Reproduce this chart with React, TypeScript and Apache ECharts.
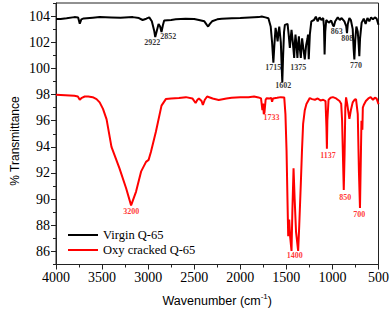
import React, { useEffect, useRef } from "react";
import * as echarts from "echarts";

// Virgin Q-65 spectrum (wavenumber cm-1, % transmittance)
const virginWavenumber = [
  4000, 3950, 3885, 3800, 3760, 3742, 3725, 3700, 3600, 3526, 3400, 3300, 3167, 3100, 3060, 3020, 2988, 2960, 2935, 2923,
  2905, 2887, 2870, 2855, 2840, 2826, 2750, 2700, 2593, 2500, 2449, 2390, 2365, 2349, 2330, 2306, 2250, 2200, 2091, 2000,
  1900, 1800, 1767, 1728, 1695, 1670, 1655, 1641, 1630, 1617, 1605, 1595, 1585, 1577, 1560, 1550, 1544, 1535, 1525, 1516,
  1487, 1475, 1462, 1452, 1444, 1430, 1415, 1408, 1401, 1390, 1380, 1372, 1364, 1355, 1343, 1336, 1329, 1315, 1300, 1285,
  1270, 1265, 1257, 1245, 1229, 1200, 1180, 1160, 1140, 1120, 1100, 1092, 1085, 1078, 1067, 1040, 1013, 995, 985, 970,
  942, 920, 900, 870, 850, 842, 833, 816, 800, 780, 770, 762, 752, 740, 725, 715, 708, 700, 683, 660,
  640, 620, 600, 580, 560, 540, 520, 500,
];
const virginTransmittance = [
  103.77, 103.78, 103.84, 103.92, 103.9, 103.41, 103.75, 103.82, 103.88, 103.92, 103.9, 103.88, 103.92, 103.85, 103.7, 103.8, 103.9, 103.6, 102.9, 102.4,
  102.9, 103.4, 103.2, 102.78, 103.3, 103.66, 103.7, 103.75, 103.8, 103.78, 103.7, 103.6, 103.35, 103.2, 103.4, 103.6, 103.75, 103.8, 103.84, 103.86,
  103.9, 103.92, 103.96, 103.9, 103.84, 103.2, 102.0, 100.43, 101.8, 103.1, 102.6, 102.07, 102.8, 103.2, 102.0, 100.0, 98.92, 101.0, 102.8, 103.33,
  103.4, 102.6, 101.57, 102.4, 102.95, 102.0, 100.8, 101.9, 102.58, 101.8, 100.8, 101.8, 102.45, 101.6, 100.8, 101.6, 102.3, 101.5, 100.68, 101.8,
  102.3, 102.58, 100.7, 102.6, 103.6, 103.7, 103.95, 103.6, 103.9, 103.7, 103.85, 103.2, 101.06, 102.8, 103.7, 103.5, 103.65, 103.3, 103.2, 103.6,
  103.9, 103.7, 103.85, 103.6, 103.2, 102.7, 103.4, 103.85, 103.7, 103.0, 101.5, 100.68, 102.2, 103.2, 102.8, 101.8, 100.93, 102.3, 103.5, 103.8,
  103.4, 103.85, 103.6, 103.9, 103.75, 103.9, 103.8, 103.33,
];

// Oxy cracked Q-65 spectrum
const oxyWavenumber = [
  4000, 3900, 3800, 3763, 3742, 3720, 3688, 3650, 3602, 3560, 3526, 3490, 3451, 3398, 3311, 3239, 3185, 3131, 3077, 3023,
  2995, 2970, 2916, 2855, 2808, 2750, 2665, 2590, 2520, 2485, 2465, 2449, 2420, 2406, 2385, 2360, 2300, 2234, 2150, 2094,
  2000, 1911, 1850, 1803, 1775, 1760, 1752, 1745, 1738, 1725, 1713, 1680, 1665, 1655, 1645, 1600, 1560, 1523, 1510, 1498,
  1488, 1480, 1469, 1458, 1444, 1435, 1422, 1410, 1395, 1372, 1360, 1343, 1330, 1318, 1300, 1282, 1246, 1220, 1190, 1160,
  1130, 1100, 1075, 1065, 1060, 1055, 1042, 1020, 995, 960, 923, 905, 895, 885, 877, 868, 860, 852, 840, 816,
  800, 780, 760, 744, 725, 712, 701, 692, 685, 680, 675, 670, 660, 637, 610, 585, 560, 540, 521, 500,
];
const oxyTransmittance = [
  97.98, 97.95, 97.9, 97.85, 97.6, 97.75, 97.85, 97.85, 97.8, 97.65, 97.4, 96.9, 96.1, 94.0, 92.35, 90.83, 89.52, 90.58, 92.1, 92.85,
  93.0, 93.6, 95.15, 97.15, 97.65, 97.7, 97.73, 97.8, 97.7, 97.35, 97.6, 97.7, 97.5, 97.2, 97.6, 97.85, 97.7, 97.58, 97.7, 97.75,
  97.8, 97.8, 97.85, 97.78, 97.7, 96.8, 97.3, 96.5, 96.6, 97.6, 97.72, 97.7, 97.75, 97.45, 97.7, 97.75, 97.8, 97.78, 96.5, 93.74,
  90.0, 87.17, 88.43, 87.05, 86.04, 89.0, 92.35, 90.0, 87.5, 86.04, 88.0, 91.2, 93.8, 95.76, 96.8, 97.27, 97.73, 97.65, 97.6, 97.7,
  97.55, 97.6, 97.5, 95.5, 93.86, 96.0, 97.6, 97.75, 97.8, 97.7, 97.5, 97.3, 96.0, 93.0, 90.7, 93.5, 97.0, 97.78, 97.3, 96.14,
  96.8, 97.4, 97.6, 97.65, 96.5, 92.0, 89.32, 93.0, 96.0, 95.5, 95.3, 97.0, 97.2, 97.5, 97.7, 97.8, 97.6, 97.75, 97.7, 97.27,
];

// Peak annotations (label text, anchor wavenumber, anchor transmittance)
const virginPeakLabels = ["2922", "2852", "1715", "1602", "1375", "863", "808", "770"];
const virginPeakWn = [2955, 2783, 1642, 1533, 1372, 952, 840, 745];
const virginPeakT = [101.97, 102.42, 100.1, 98.68, 100.1, 102.82, 102.32, 100.23];

const oxyPeakLabels = ["3200", "1733", "1400", "1137", "850", "700"];
const oxyPeakWn = [3182, 1660, 1409, 1049, 860, 710];
const oxyPeakT = [89.09, 96.21, 85.67, 93.3, 90.15, 88.8];

const seriesNames = ["Virgin Q-65", "Oxy cracked Q-65"];
const xTicks = [4000, 3500, 3000, 2500, 2000, 1500, 1000, 500];
const yTickLabels = [86, 88, 90, 92, 94, 96, 98, 100, 102, 104];
const yMinorTicks = [85, 87, 89, 91, 93, 95, 97, 99, 101, 103, 105];

const SERIF = "Liberation Serif";
const SANS = "Liberation Sans";

function zip(a: number[], b: number[]) {
  return a.map((v, i) => [v, b[i]]);
}

export default function App() {
  const ref = useRef<HTMLDivElement>(null);

  useEffect(() => {
    if (!ref.current) return;
    const chart = echarts.init(ref.current, undefined, { renderer: "svg" });

    const labelSeries = (labels: string[], wn: number[], t: number[], color: string) => ({
      type: "scatter",
      symbol: "circle",
      symbolSize: 1,
      itemStyle: { color: "rgba(0,0,0,0)" },
      silent: true,
      z: 5,
      data: labels.map((l, i) => ({ value: [wn[i], t[i]], name: l })),
      label: {
        show: true,
        position: "inside",
        formatter: (p: any) => p.name,
        fontFamily: SERIF,
        fontWeight: "bold",
        fontSize: 8,
        color,
        textBorderWidth: 0,
        textBorderColor: "transparent",
      },
    });

    chart.setOption({
      animation: false,
      backgroundColor: "#ffffff",
      grid: {
        left: 56,
        right: 11,
        top: 3,
        bottom: 45,
        show: true,
        borderColor: "#222",
        borderWidth: 1,
        backgroundColor: "transparent",
      },
      legend: {
        data: seriesNames,
        orient: "vertical",
        left: 63,
        top: 223,
        icon: "rect",
        itemWidth: 30,
        itemHeight: 2,
        itemGap: 1,
        textStyle: { fontFamily: SERIF, fontSize: 12.5, color: "#000", lineHeight: 14 },
      },
      xAxis: {
        type: "value",
        min: 500,
        max: 4000,
        interval: 500,
        inverse: true,
        name: "Wavenumber (cm{sup|-1})",
        nameLocation: "middle",
        nameGap: 28,
        nameTextStyle: {
          fontFamily: SANS,
          fontSize: 12.5,
          color: "#000",
          rich: { sup: { fontFamily: SANS, fontSize: 8, color: "#000", padding: [0, 0, 8, 0] } },
        },
        axisLine: { show: true, lineStyle: { color: "#222", width: 1 } },
        axisTick: { show: true, inside: false, length: 5, lineStyle: { color: "#222" }, customValues: xTicks },
        minorTick: { show: true, splitNumber: 2, length: 3, lineStyle: { color: "#222" } },
        axisLabel: {
          fontFamily: SERIF,
          fontSize: 14,
          color: "#000",
          margin: 6,
          customValues: xTicks,
          formatter: (v: number) => String(v),
        },
        splitLine: { show: false },
      },
      yAxis: [
        {
          type: "value",
          min: 85,
          max: 105,
          axisLine: { show: true, lineStyle: { color: "#222", width: 1 } },
          axisTick: { show: true, inside: false, length: 5, lineStyle: { color: "#222" }, customValues: yTickLabels },
          axisLabel: {
            fontFamily: SERIF,
            fontSize: 14,
            color: "#000",
            margin: 6,
            customValues: yTickLabels,
            formatter: (v: number) => String(v),
          },
          splitLine: { show: false },
        },
        {
          type: "value",
          min: 85,
          max: 105,
          position: "left",
          axisLine: { show: false },
          axisTick: { show: true, inside: false, length: 3, lineStyle: { color: "#222" }, customValues: yMinorTicks },
          axisLabel: { show: false },
          splitLine: { show: false },
        },
      ],
      graphic: [
        {
          type: "text",
          x: 15,
          y: 141,
          rotation: Math.PI / 2,
          style: {
            text: "% Transmittance",
            fontFamily: SANS,
            fontSize: 12,
            fill: "#000",
            align: "center",
            verticalAlign: "middle",
          },
        },
      ],
      series: [
        {
          name: seriesNames[0],
          type: "line",
          data: zip(virginWavenumber, virginTransmittance),
          symbol: "none",
          lineStyle: { color: "#000000", width: 2 },
          itemStyle: { color: "#000000" },
          z: 3,
        },
        {
          name: seriesNames[1],
          type: "line",
          data: zip(oxyWavenumber, oxyTransmittance),
          symbol: "none",
          lineStyle: { color: "#ff0000", width: 2 },
          itemStyle: { color: "#ff0000" },
          z: 2,
        },
        labelSeries(virginPeakLabels, virginPeakWn, virginPeakT, "#000000"),
        labelSeries(oxyPeakLabels, oxyPeakWn, oxyPeakT, "#ff0000"),
      ],
    });

    return () => chart.dispose();
  }, []);

  return (
    <div
      ref={ref}
      style={{ position: "absolute", left: 0, top: 0, width: 392, height: 312 }}
    />
  );
}
